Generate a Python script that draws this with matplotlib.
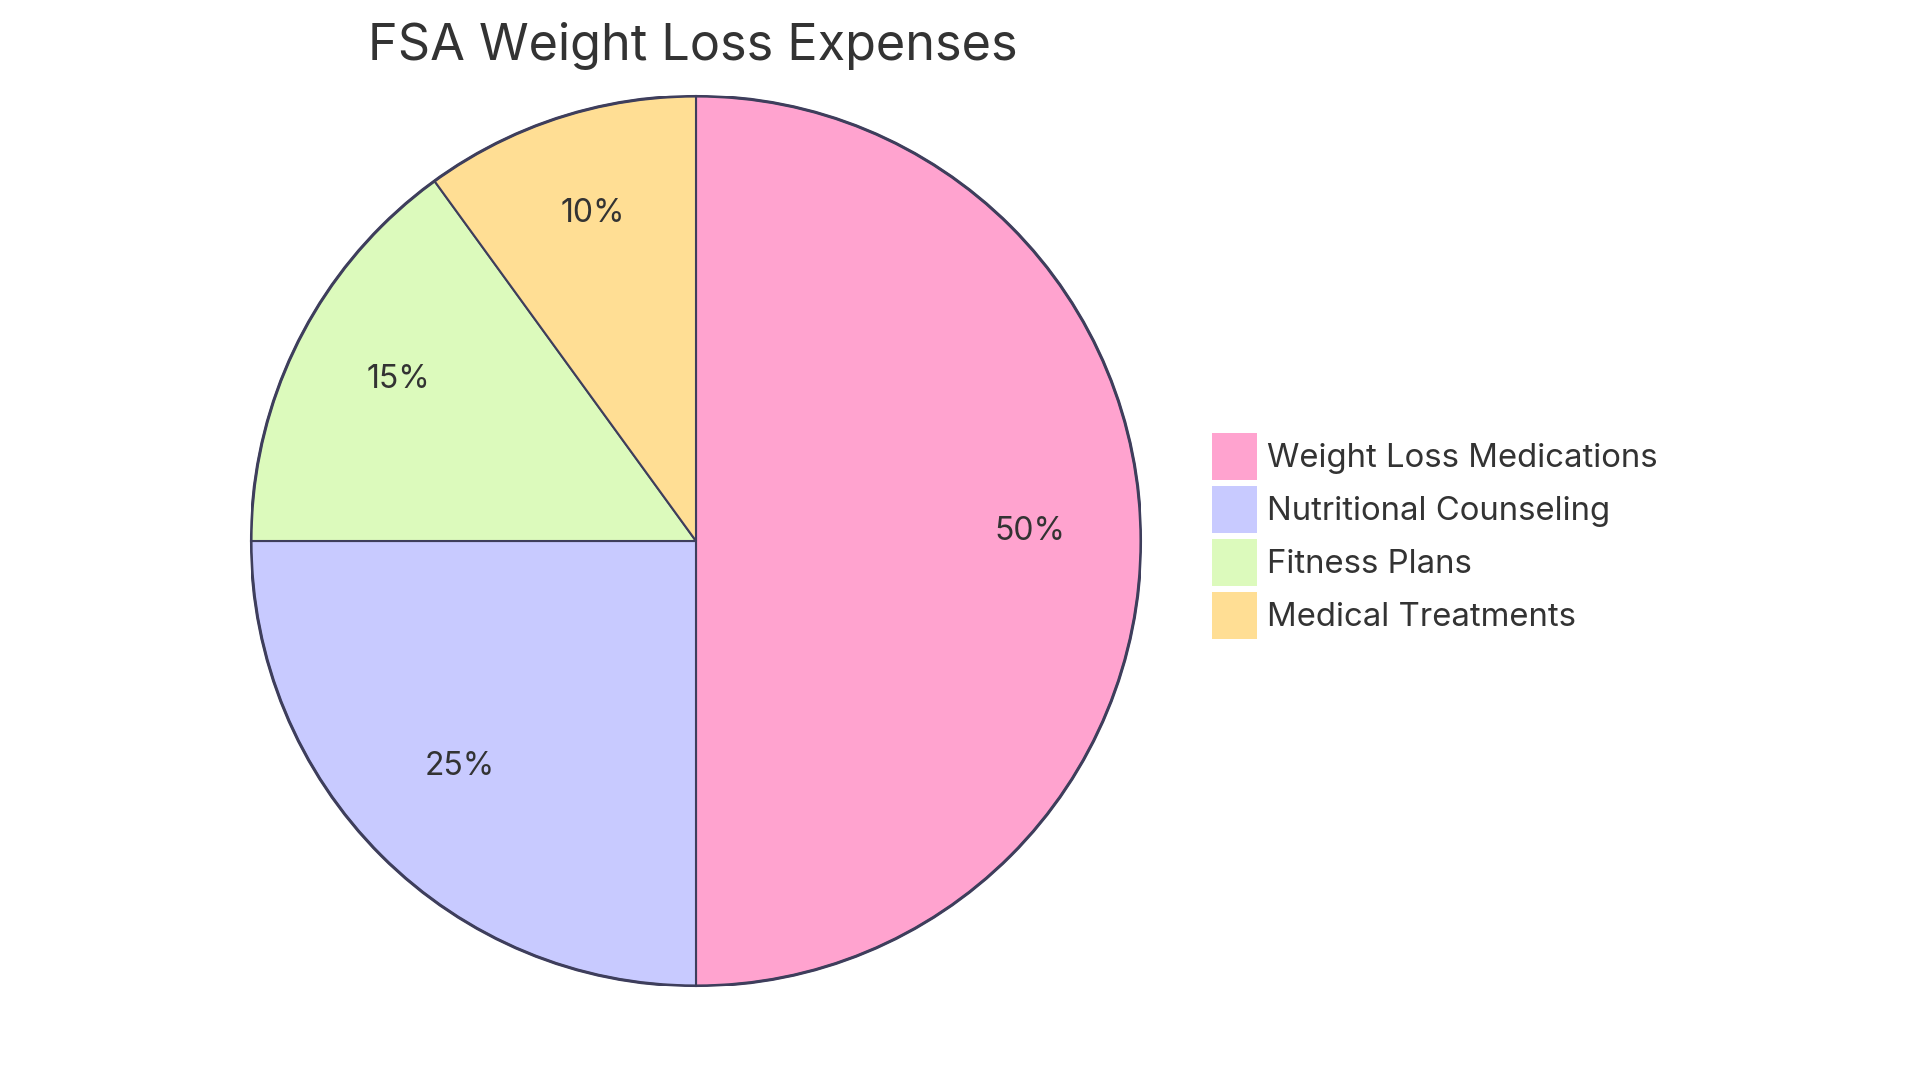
import matplotlib.pyplot as plt
from matplotlib.patches import Circle

# FSA weight loss expense shares (percent)
categories = ['Weight Loss Medications', 'Nutritional Counseling', 'Fitness Plans', 'Medical Treatments']
shares = [50, 25, 15, 10]
colors = ['#FFA3CF', '#C8CAFF', '#DCFABC', '#FFDE94']

plt.rcParams['font.family'] = ['Inter', 'DejaVu Sans']
text_color = '#333333'
edge_color = '#3E3E5C'

W, H = 1920, 1083
fig = plt.figure(figsize=(W / 100, H / 100), dpi=100)

# pie centre and radius in pixels
cx, cy, r = 696, 541, 445
ax = fig.add_axes([(cx - r) / W, (H - cy - r) / H, 2 * r / W, 2 * r / H])

wedges, texts, autotexts = ax.pie(
    shares, colors=colors, startangle=90, counterclock=False, radius=1,
    autopct='%1.0f%%', pctdistance=0.75,
    wedgeprops=dict(edgecolor=edge_color, linewidth=1.5),
    textprops=dict(fontsize=23, color=text_color))
ax.add_patch(Circle((0, 0), 1, fill=False, edgecolor=edge_color, linewidth=2.2))
# pie() resets the limits, so set them afterwards
ax.set_xlim(-1, 1)
ax.set_ylim(-1, 1)
ax.set_aspect('equal')
ax.axis('off')

# nudge percentage labels up a little, like the original
for t in autotexts:
    x, y = t.get_position()
    t.set_position((x, y + 10 / r))

fig.text(693 / W, 1 - 46 / H, 'FSA Weight Loss Expenses', ha='center', va='center',
         fontsize=36.3, color=text_color)

leg = fig.legend(wedges, categories, loc='upper left',
                 bbox_to_anchor=(1212 / W, 1 - 433 / H), frameon=False,
                 fontsize=23.7, labelcolor=text_color, handlelength=1.37, handleheight=1.8,
                 handletextpad=0.3, labelspacing=0.2, borderpad=0, borderaxespad=0)
for h in leg.legend_handles:
    h.set_edgecolor('none')

fig.savefig('out.png', dpi=100, facecolor='white')
